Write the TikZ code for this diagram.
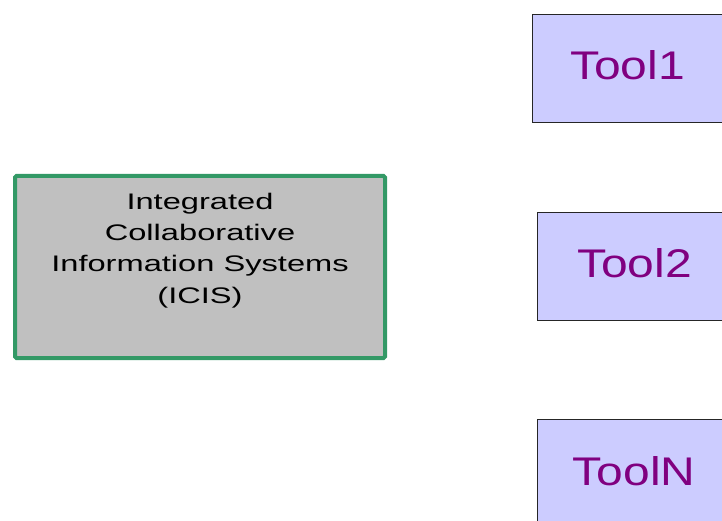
\documentclass[tikz,border=0pt]{standalone}
\usepackage{fontspec}
\setmainfont{Liberation Sans}
\newfontfamily\icisfont[FakeStretch=1.45]{Liberation Sans}
\newfontfamily\toolfont[FakeStretch=1.2]{Liberation Sans}
\begin{document}
\begin{tikzpicture}[x=1pt,y=-1pt,
  icisbox/.style={draw=icisgreen, line width=4pt, fill=icisgray, rounded corners=1.5pt, inner sep=0pt},
  icistext/.style={align=center, font=\icisfont\fontsize{22.5}{31.1}\selectfont, text=black, inner sep=0pt},
  toolbox/.style={draw=black!85, line width=1pt, fill=toolfill, inner sep=0pt},
  tooltext/.style={text=toolpurple, font=\toolfont\fontsize{40}{46}\selectfont, inner sep=0pt, anchor=base}]
\definecolor{icisgreen}{HTML}{339966}
\definecolor{icisgray}{HTML}{C0C0C0}
\definecolor{toolfill}{HTML}{CCCCFF}
\definecolor{toolpurple}{HTML}{800080}
\useasboundingbox (0,0) rectangle (722,521);
\clip (0,0) rectangle (722,521);
\node[icisbox, minimum width=370pt, minimum height=182pt] (icis) at (200,267) {};
\node[icistext, anchor=base] (icisl) at (200,303) {Integrated\\Collaborative\\Information Systems\\(ICIS)};
\node[toolbox, minimum width=200pt, minimum height=108pt, anchor=north west] (t1) at (532,14) {};
\node[tooltext] (t1l) at (627.5,80) {Tool1};
\node[toolbox, minimum width=200pt, minimum height=108pt, anchor=north west] (t2) at (537,212) {};
\node[tooltext] (t2l) at (634.5,277) {Tool2};
\node[toolbox, minimum width=200pt, minimum height=120pt, anchor=north west] (tn) at (537,419) {};
\node[tooltext] (tnl) at (634,485) {ToolN};
\end{tikzpicture}
\end{document}
